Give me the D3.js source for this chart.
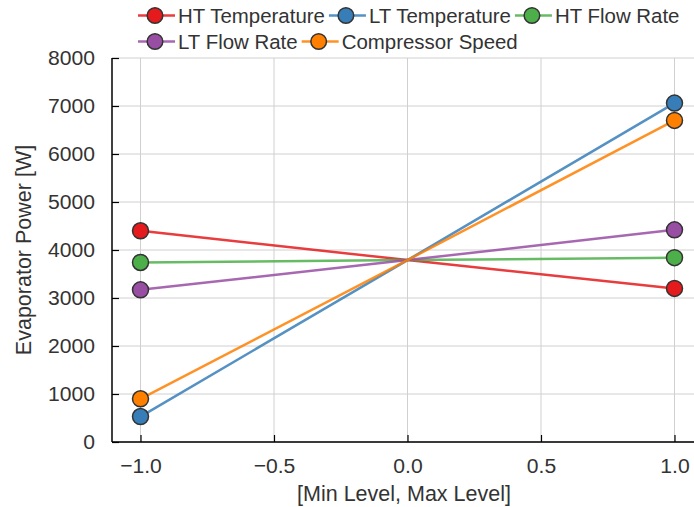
<!DOCTYPE html>
<html><head><meta charset="utf-8">
<script src="https://cdn.jsdelivr.net/npm/d3@7"></script>
<style>
html,body{margin:0;padding:0;background:#fff;}
svg{display:block;}
svg text{font-family:"Liberation Sans",Arial,Helvetica,sans-serif;}
</style></head>
<body>
<svg id="chart" width="694" height="507"></svg>
<script>
const seriesNames = ["HT Temperature","LT Temperature","HT Flow Rate","LT Flow Rate","Compressor Speed"];
const seriesColors = ["#e41a1c","#377eb8","#4daf4a","#984ea3","#ff7f00"];
const levels = [-1, 0, 1];
const htTemperature = [4400, 3790, 3200];
const ltTemperature = [530, 3790, 7060];
const htFlowRate = [3740, 3790, 3840];
const ltFlowRate = [3170, 3790, 4420];
const compressorSpeed = [900, 3790, 6700];
const seriesValues = [htTemperature, ltTemperature, htFlowRate, ltFlowRate, compressorSpeed];
const xTicks = [-1.0, -0.5, 0.0, 0.5, 1.0];
const yTicks = [0,1000,2000,3000,4000,5000,6000,7000,8000];

(function () {
const svg = d3.select("#chart");
const FONT = '"Liberation Sans",Arial,Helvetica,sans-serif';
function fitSize(str, target) {
  const t = svg.append("text").style("font-family", FONT).style("font-size", "20px").text(str);
  const w = t.node().getComputedTextLength();
  t.remove();
  return 20 * target / w;
}
const legendSize = fitSize("HT Temperature", 147);
const tickSize = fitSize("8000", 47);
const labelSize = fitSize("[Min Level, Max Level]", 214);

const pLeft = 112, pRight = 696, pTop = 58, pBottom = 442;
const x = d3.scaleLinear().domain([-1, 1]).range([140.5, 674.5]);
const y = d3.scaleLinear().domain([0, 8000]).range([pBottom, pTop]);
const textColor = "#333";

// grid
const grid = svg.append("g");
grid.selectAll("line.h").data(yTicks).join("line").attr("class", "h")
  .attr("x1", pLeft).attr("x2", pRight)
  .attr("y1", d => y(d)).attr("y2", d => y(d))
  .attr("stroke", "#d0d0d0").attr("stroke-width", 1);
grid.selectAll("line.v").data(xTicks).join("line").attr("class", "v")
  .attr("x1", d => x(d)).attr("x2", d => x(d))
  .attr("y1", pTop).attr("y2", pBottom)
  .attr("stroke", "#d0d0d0").attr("stroke-width", 1);

// axes
const yAxis = d3.axisLeft(y).tickValues(yTicks).tickSizeInner(-7).tickSizeOuter(0).tickPadding(17).tickFormat(d3.format("d"));
const gy = svg.append("g").attr("transform", `translate(${pLeft},0)`).call(yAxis);
const xAxis = d3.axisBottom(x).tickValues(xTicks).tickSizeInner(-7).tickSizeOuter(0).tickPadding(16)
  .tickFormat(d => d3.format(".1f")(d).replace("-", "\u2212"));
const gx = svg.append("g").attr("transform", `translate(0,${pBottom})`).call(xAxis);
[gx, gy].forEach(g => {
  g.attr("font-family", null);
  g.select(".domain").remove();
  g.selectAll(".tick line").attr("stroke", "#000").attr("stroke-width", 1.2);
  g.selectAll(".tick text").attr("fill", textColor).style("font-family", FONT).style("font-size", tickSize + "px");
});
// spines
svg.append("line").attr("x1", pLeft).attr("x2", pLeft).attr("y1", pTop).attr("y2", pBottom)
  .attr("stroke", "#000").attr("stroke-width", 1.5);
svg.append("line").attr("x1", pLeft).attr("x2", pRight).attr("y1", pBottom).attr("y2", pBottom)
  .attr("stroke", "#000").attr("stroke-width", 1.5);

// axis labels
svg.append("text").attr("x", 404).attr("y", 501).attr("text-anchor", "middle")
  .attr("fill", textColor).style("font-size", labelSize + "px").text("[Min Level, Max Level]");
svg.append("text").attr("transform", "translate(31,250) rotate(-90)").attr("text-anchor", "middle")
  .attr("fill", textColor).style("font-size", labelSize + "px").text("Evaporator Power [W]");

// series
const line = d3.line().x((d, i) => x(levels[i])).y(d => y(d));
seriesValues.forEach((vals, si) => {
  const g = svg.append("g");
  g.append("path").attr("d", line(vals)).attr("fill", "none")
    .attr("stroke", seriesColors[si]).attr("stroke-width", 2.5).attr("stroke-opacity", 0.85);
  const ends = [0, vals.length - 1];
  g.selectAll("circle").data(ends).join("circle")
    .attr("cx", i => x(levels[i])).attr("cy", i => y(vals[i])).attr("r", 8)
    .attr("fill", seriesColors[si]).attr("stroke", "#333").attr("stroke-width", 1.5);
});

// legend
const legendRows = [[0, 1, 2], [3, 4]];
legendRows.forEach((row, ri) => {
  let cx = 138;
  const cy = 15.5 + ri * 26;
  row.forEach(si => {
    const g = svg.append("g");
    g.append("line").attr("x1", cx).attr("x2", cx + 37).attr("y1", cy).attr("y2", cy)
      .attr("stroke", seriesColors[si]).attr("stroke-width", 2.5).attr("stroke-opacity", 0.85);
    g.append("circle").attr("cx", cx + 17).attr("cy", cy).attr("r", 7.8)
      .attr("fill", seriesColors[si]).attr("stroke", "#333").attr("stroke-width", 1.5);
    const t = g.append("text").attr("x", cx + 40).attr("y", cy + 7).attr("fill", textColor)
      .style("font-size", legendSize + "px").text(seriesNames[si]);
    cx += 40 + t.node().getComputedTextLength() + 4;
  });
});
})();
</script>
</body></html>
